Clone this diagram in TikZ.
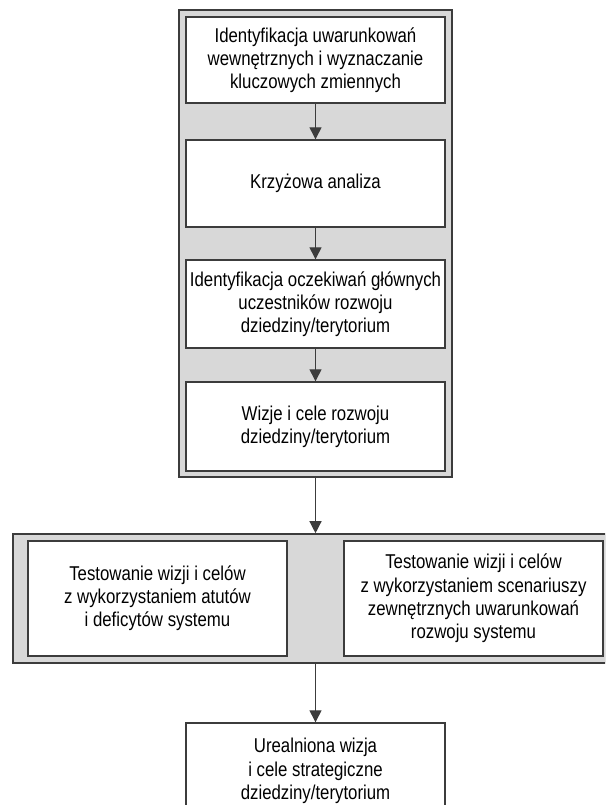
\documentclass[tikz,border=0pt]{standalone}
\usepackage{fontspec}
\setmainfont[FakeStretch=0.84]{Liberation Sans}
\usetikzlibrary{arrows.meta}
\definecolor{linec}{HTML}{3C3C3C}
\definecolor{panelgrey}{HTML}{D8D8D8}
\begin{document}
\begin{tikzpicture}[x=1pt,y=-1pt,
  panel/.style={draw=linec, fill=panelgrey, line width=1.6pt, inner sep=0pt},
  stepbox/.style={draw=linec, fill=white, line width=1.4pt, inner sep=0pt,
    align=center, font=\fontsize{20}{23.2}\selectfont},
  flow/.style={draw=linec, line width=1.3pt, -{Triangle[length=12pt,width=12pt]}}]
\useasboundingbox (0,0) rectangle (605,805);
\clip (0,0) rectangle (605,805);

% upper panel with four steps
\node[panel, minimum width=273pt, minimum height=467pt] (toppanel) at (315.5,243.5) {};
\node[stepbox, minimum width=259pt, minimum height=86pt] (s1) at (315.5,60)
  {Identyfikacja uwarunkowań\\wewnętrznych i wyznaczanie\\kluczowych zmiennych};
\node[stepbox, minimum width=259pt, minimum height=87pt] (s2) at (315.5,183.5)
  {Krzyżowa analiza};
\node[stepbox, minimum width=259pt, minimum height=88pt] (s3) at (315.5,304)
  {Identyfikacja oczekiwań głównych\\uczestników rozwoju\\dziedziny/terytorium};
\node[stepbox, minimum width=259pt, minimum height=89pt] (s4) at (315.5,426.5)
  {Wizje i cele rozwoju\\dziedziny/terytorium};

% lower panel with the two tests
\node[panel, minimum width=593pt, minimum height=129pt] (botpanel) at (309.5,598.5) {};
\node[stepbox, minimum width=259pt, minimum height=115pt] (t1) at (157.5,598.5)
  {Testowanie wizji i celów\\z wykorzystaniem atutów\\i deficytów systemu};
\node[stepbox, minimum width=259pt, minimum height=115pt] (t2) at (473.5,598.5)
  {Testowanie wizji i celów\\z wykorzystaniem scenariuszy\\zewnętrznych uwarunkowań\\rozwoju systemu};

% result, running past the lower edge of the page
\node[stepbox, minimum width=259pt, minimum height=96pt] (res) at (315.5,771)
  {Urealniona wizja\\i cele strategiczne\\dziedziny/terytorium};

% connectors
\draw[flow] (s1) -- (s2);
\draw[flow] (s2) -- (s3);
\draw[flow] (s3) -- (s4);
\draw[flow] (toppanel.south) -- (botpanel.north -| toppanel.south);
\draw[flow] (botpanel.south -| toppanel.south) -- (res);
\end{tikzpicture}
\end{document}
